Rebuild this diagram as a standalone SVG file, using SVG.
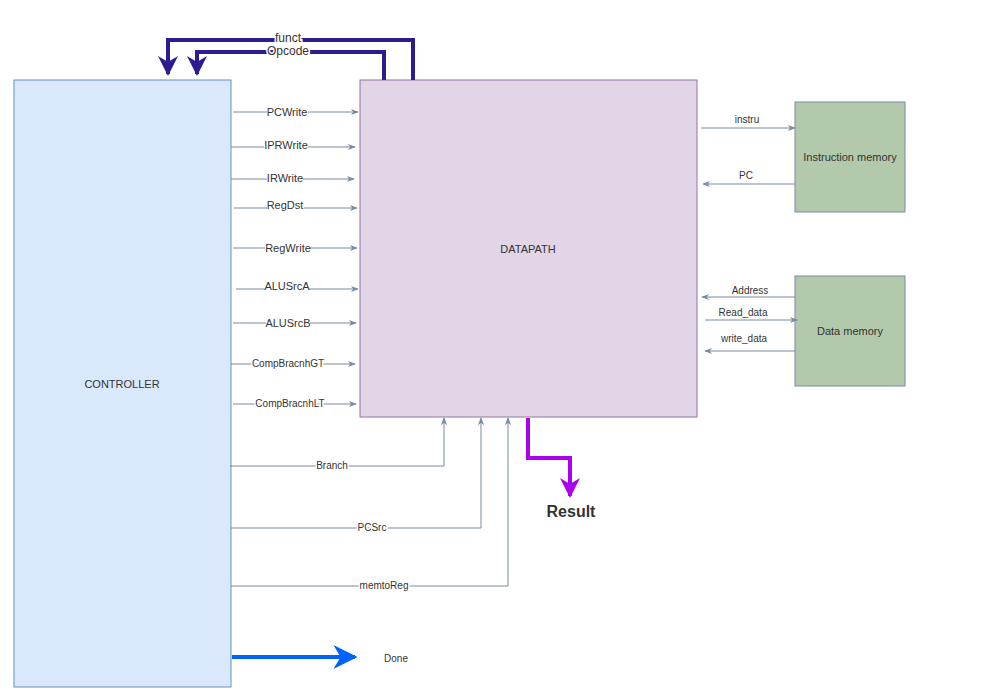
<svg xmlns="http://www.w3.org/2000/svg" width="982" height="692" viewBox="0 0 982 692">
<style>
text{font-family:"Liberation Sans",Arial,sans-serif;fill:#333;}
.c{fill:none;stroke:#788aa3;stroke-width:1;}
.lbl{font-size:10px;text-anchor:middle;}
.lb{font-size:10px;text-anchor:middle;}
.bg{fill:#fff;}
.node text{font-size:11px;text-anchor:middle;}
</style>
<defs>
<marker id="a" viewBox="0 0 10 10" refX="9" refY="5" markerWidth="8" markerHeight="8" markerUnits="userSpaceOnUse" orient="auto">
<path d="M0,1 L10,5 L0,9 L3,5 Z" fill="#788aa3"/>
</marker>
<marker id="ab" viewBox="0 0 10 10" refX="9" refY="5" markerWidth="6" markerHeight="6" orient="auto">
<path d="M0,0 L10,5 L0,10 L3,5 Z" fill="#0062ff"/>
</marker>
<marker id="ai" viewBox="0 0 10 10" refX="9" refY="5" markerWidth="5" markerHeight="5" orient="auto">
<path d="M0,0 L10,5 L0,10 L3,5 Z" fill="#2b1c91"/>
</marker>
<marker id="ap" viewBox="0 0 10 10" refX="9" refY="5" markerWidth="5" markerHeight="5" orient="auto">
<path d="M0,0 L10,5 L0,10 L3,5 Z" fill="#aa00ee"/>
</marker>
</defs>
<rect width="982" height="692" fill="#fff"/>
<g id="controller" class="node"><rect x="14" y="80" width="217" height="607" fill="#dae8fc" stroke="#6c8ebf"/><text x="122" y="388">CONTROLLER</text></g>
<g id="datapath" class="node"><rect x="360" y="80" width="337" height="337" fill="#e1d5e7" stroke="#9673a6"/><text x="528" y="253">DATAPATH</text></g>
<g id="imem" class="node"><rect x="795" y="102" width="110" height="110" fill="#b2c9ab" stroke="#788aa3"/><text x="850" y="161">Instruction memory</text></g>
<g id="dmem" class="node"><rect x="795" y="276" width="110" height="110" fill="#b2c9ab" stroke="#788aa3"/><text x="850" y="335">Data memory</text></g>
<g id="connectors">
<path class="c" d="M233,112H358" marker-end="url(#a)"/>
<path class="c" d="M231,147H355" marker-end="url(#a)"/>
<path class="c" d="M231,179H354" marker-end="url(#a)"/>
<path class="c" d="M234,208H357" marker-end="url(#a)"/>
<path class="c" d="M233,248H357" marker-end="url(#a)"/>
<path class="c" d="M236,289H358" marker-end="url(#a)"/>
<path class="c" d="M233,323H356" marker-end="url(#a)"/>
<path class="c" d="M231,364H355" marker-end="url(#a)"/>
<path class="c" d="M233,404H356" marker-end="url(#a)"/>
<path class="c" d="M230,466H444V418" marker-end="url(#a)"/>
<path class="c" d="M231,528H481V418" marker-end="url(#a)"/>
<path class="c" d="M231,586H508V418" marker-end="url(#a)"/>
<path class="c" d="M701,128H795" marker-end="url(#a)"/>
<path class="c" d="M795,184H703" marker-end="url(#a)"/>
<path class="c" d="M795,297H702" marker-end="url(#a)"/>
<path class="c" d="M705,320H797" marker-end="url(#a)"/>
<path class="c" d="M795,351H705" marker-end="url(#a)"/>
<path d="M232,657H355" fill="none" stroke="#0062ff" stroke-width="4" marker-end="url(#ab)"/>
<path d="M413,80V40H168V74" fill="none" stroke="#2b1c91" stroke-width="4" marker-end="url(#ai)"/>
<path d="M384,80V52H197V74" fill="none" stroke="#2b1c91" stroke-width="4" marker-end="url(#ai)"/>
<path d="M528,418V458H570V496" fill="none" stroke="#aa00ee" stroke-width="4" marker-end="url(#ap)"/>
<g font-size="11" text-anchor="middle">
<rect class="bg" x="267" y="105" width="41" height="12"/><text x="287" y="116">PCWrite</text>
<rect class="bg" x="264" y="139" width="44" height="12"/><text x="286" y="149">IPRWrite</text>
<rect class="bg" x="267" y="172" width="36" height="12"/><text x="285" y="182">IRWrite</text>
<rect class="bg" x="267" y="199" width="37" height="12"/><text x="285" y="209">RegDst</text>
<rect class="bg" x="265" y="241" width="45" height="12"/><text x="288" y="252">RegWrite</text>
<rect class="bg" x="265" y="280" width="44" height="12"/><text x="287" y="290">ALUSrcA</text>
<rect class="bg" x="266" y="317" width="44" height="12"/><text x="288" y="327">ALUSrcB</text>
<text x="288" y="367" font-size="10" style="paint-order:stroke" stroke="#fff" stroke-width="3">CompBracnhGT</text>
<text x="290" y="407" font-size="10" style="paint-order:stroke" stroke="#fff" stroke-width="3">CompBracnhLT</text>
<text x="332" y="469" font-size="10" style="paint-order:stroke" stroke="#fff" stroke-width="3">Branch</text>
<text x="372" y="531" font-size="10" style="paint-order:stroke" stroke="#fff" stroke-width="3">PCSrc</text>
<text x="384" y="589" font-size="10" style="paint-order:stroke" stroke="#fff" stroke-width="3">memtoReg</text>
<text x="396" y="662" font-size="10">Done</text>
<text x="288" y="42" font-size="12" style="paint-order:stroke" stroke="#fff" stroke-width="3">funct</text>
<text x="288" y="55" font-size="12" style="paint-order:stroke" stroke="#fff" stroke-width="3">Opcode</text>
<text x="571" y="517" font-size="16" font-weight="bold" fill="#444">Result</text>
<text x="747" y="123" font-size="10">instru</text>
<text x="746" y="179" font-size="10">PC</text>
<text x="750" y="294" font-size="10">Address</text>
<text x="743" y="316" font-size="10">Read_data</text>
<text x="744" y="342" font-size="10">write_data</text>
</g>
</g>
</svg>
